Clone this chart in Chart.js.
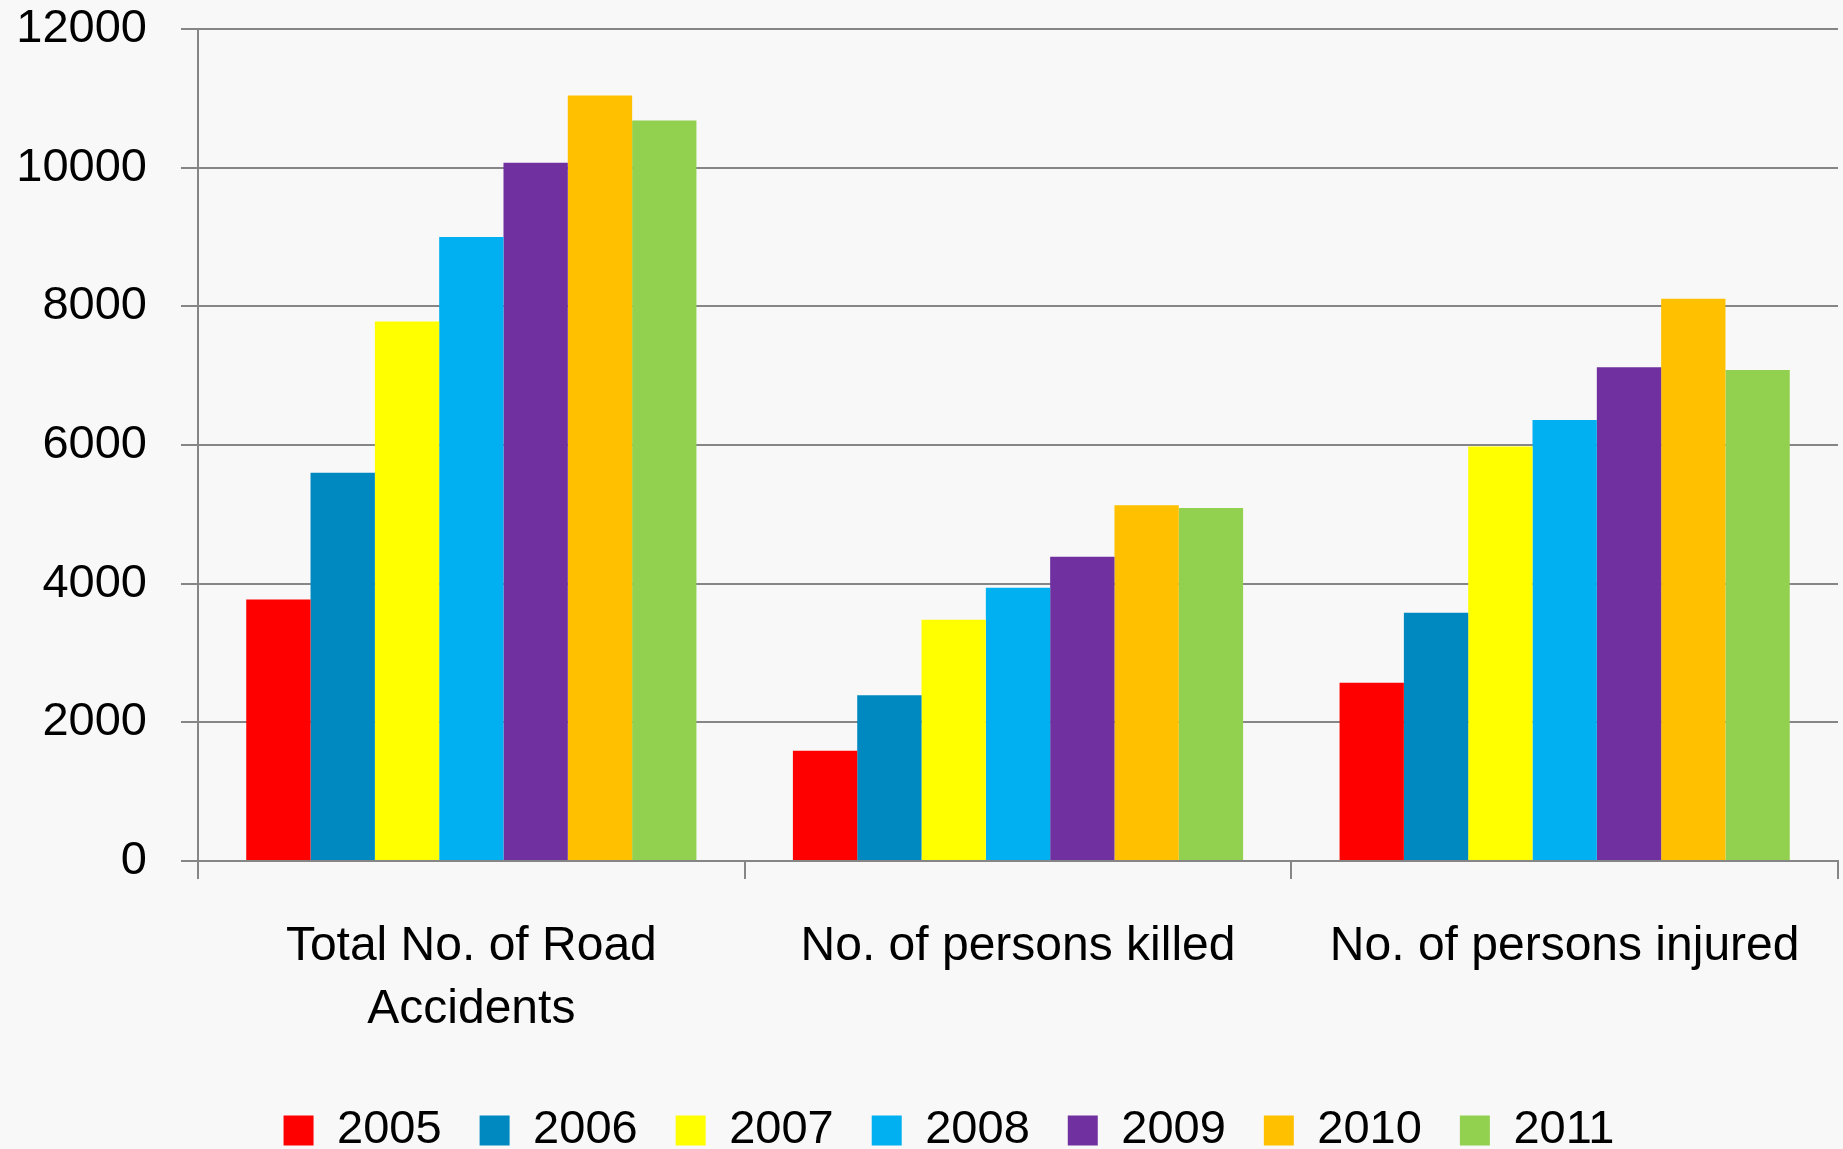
<!DOCTYPE html>
<html>
<head>
<meta charset="utf-8">
<script src="https://cdn.jsdelivr.net/npm/chart.js@4/dist/chart.umd.min.js"></script>
<style>
  html, body { margin: 0; padding: 0; background: #f8f8f8; }
  #wrap { width: 1843px; height: 1149px; }
</style>
</head>
<body>
<div id="wrap"><canvas id="c" width="1843" height="1149"></canvas></div>
<script>
const categories = [["Total No. of Road", "Accidents"], "No. of persons killed", "No. of persons injured"];
const years = ["2005", "2006", "2007", "2008", "2009", "2010", "2011"];
const v2005 = [3770, 1590, 2570];
const v2006 = [5600, 2390, 3580];
const v2007 = [7780, 3480, 5980];
const v2008 = [9000, 3940, 6360];
const v2009 = [10070, 4390, 7120];
const v2010 = [11040, 5130, 8110];
const v2011 = [10680, 5090, 7080];
const yTicks = [0, 2000, 4000, 6000, 8000, 10000, 12000];

const seriesValues = [v2005, v2006, v2007, v2008, v2009, v2010, v2011];
const colors = ["#FF0000", "#0089C0", "#FFFF00", "#00B0F0", "#7030A0", "#FFC000", "#92D050"];
const FONT = "'Liberation Sans', Arial, sans-serif";
const GRID = "#868686";

// shift the legend a little to the right, as in the original
const legendShift = {
  id: "legendShift",
  afterLayout(chart) {
    if (chart.legend) {
      chart.legend.left += 30;
      chart.legend.right += 30;
    }
  }
};

new Chart(document.getElementById("c"), {
  type: "bar",
  data: {
    labels: categories,
    datasets: years.map((y, i) => ({
      label: y,
      data: seriesValues[i],
      backgroundColor: colors[i],
      borderWidth: 0,
      barPercentage: 1.0,
      categoryPercentage: 7 / 8.5
    }))
  },
  plugins: [legendShift],
  options: {
    responsive: false,
    animation: false,
    devicePixelRatio: 1,
    layout: { padding: { left: 0, right: 5, top: 29, bottom: -15 } },
    plugins: {
      tooltip: { enabled: false },
      legend: {
        position: "bottom",
        align: "center",
        labels: {
          boxWidth: 30,
          boxHeight: 30,
          padding: 38,
          color: "#000",
          font: { family: FONT, size: 47 }
        }
      }
    },
    scales: {
      x: {
        offset: true,
        grid: {
          offset: true,
          drawOnChartArea: false,
          drawTicks: true,
          tickLength: 18,
          color: GRID,
          lineWidth: 2
        },
        border: { display: true, color: GRID, width: 2 },
        ticks: {
          color: "#000",
          font: { family: FONT, size: 48, lineHeight: 1.3 },
          padding: 37,
          maxRotation: 0,
          minRotation: 0,
          autoSkip: false
        },
        afterFit: (s) => { s.height = 208; }
      },
      y: {
        min: yTicks[0],
        max: yTicks[yTicks.length - 1],
        afterBuildTicks: (s) => { s.ticks = yTicks.map(v => ({ value: v })); },
        grid: {
          drawTicks: true,
          tickLength: 17,
          color: GRID,
          lineWidth: 2
        },
        border: { display: true, color: GRID, width: 2 },
        ticks: {
          color: "#000",
          font: { family: FONT, size: 47 },
          padding: 34,
          callback: (v) => String(v)
        },
        afterFit: (s) => { s.width = 198; s.paddingTop = 0; s.paddingBottom = 0; }
      }
    }
  }
});
</script>
</body>
</html>
